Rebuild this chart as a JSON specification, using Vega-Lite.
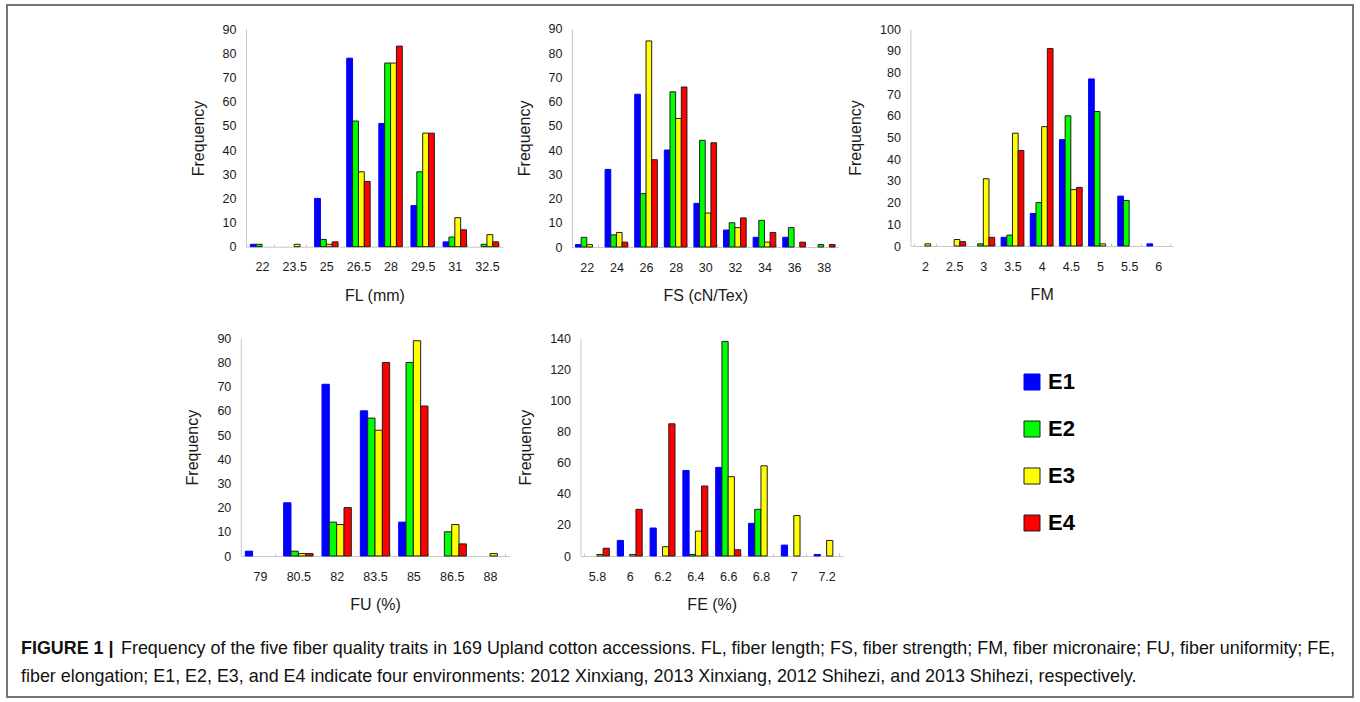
{
  "$schema": "https://vega.github.io/schema/vega-lite/v6.json",
  "width": 1346,
  "height": 692,
  "autosize": {"type": "none"},
  "padding": {"left": 7, "top": 5, "right": 7, "bottom": 5},
  "background": "white",
  "datasets": {
    "bars": [
      {"trait": "FL", "cls": 22, "env": "E1", "freq": 1},
      {"trait": "FL", "cls": 22, "env": "E2", "freq": 1},
      {"trait": "FL", "cls": 23.5, "env": "E3", "freq": 1},
      {"trait": "FL", "cls": 25, "env": "E1", "freq": 20},
      {"trait": "FL", "cls": 25, "env": "E2", "freq": 3},
      {"trait": "FL", "cls": 25, "env": "E3", "freq": 1},
      {"trait": "FL", "cls": 25, "env": "E4", "freq": 2},
      {"trait": "FL", "cls": 26.5, "env": "E1", "freq": 78},
      {"trait": "FL", "cls": 26.5, "env": "E2", "freq": 52},
      {"trait": "FL", "cls": 26.5, "env": "E3", "freq": 31},
      {"trait": "FL", "cls": 26.5, "env": "E4", "freq": 27},
      {"trait": "FL", "cls": 28, "env": "E1", "freq": 51},
      {"trait": "FL", "cls": 28, "env": "E2", "freq": 76},
      {"trait": "FL", "cls": 28, "env": "E3", "freq": 76},
      {"trait": "FL", "cls": 28, "env": "E4", "freq": 83},
      {"trait": "FL", "cls": 29.5, "env": "E1", "freq": 17},
      {"trait": "FL", "cls": 29.5, "env": "E2", "freq": 31},
      {"trait": "FL", "cls": 29.5, "env": "E3", "freq": 47},
      {"trait": "FL", "cls": 29.5, "env": "E4", "freq": 47},
      {"trait": "FL", "cls": 31, "env": "E1", "freq": 2},
      {"trait": "FL", "cls": 31, "env": "E2", "freq": 4},
      {"trait": "FL", "cls": 31, "env": "E3", "freq": 12},
      {"trait": "FL", "cls": 31, "env": "E4", "freq": 7},
      {"trait": "FL", "cls": 32.5, "env": "E2", "freq": 1},
      {"trait": "FL", "cls": 32.5, "env": "E3", "freq": 5},
      {"trait": "FL", "cls": 32.5, "env": "E4", "freq": 2},

      {"trait": "FS", "cls": 22, "env": "E1", "freq": 1},
      {"trait": "FS", "cls": 22, "env": "E2", "freq": 4},
      {"trait": "FS", "cls": 22, "env": "E3", "freq": 1},
      {"trait": "FS", "cls": 24, "env": "E1", "freq": 32},
      {"trait": "FS", "cls": 24, "env": "E2", "freq": 5},
      {"trait": "FS", "cls": 24, "env": "E3", "freq": 6},
      {"trait": "FS", "cls": 24, "env": "E4", "freq": 2},
      {"trait": "FS", "cls": 26, "env": "E1", "freq": 63},
      {"trait": "FS", "cls": 26, "env": "E2", "freq": 22},
      {"trait": "FS", "cls": 26, "env": "E3", "freq": 85},
      {"trait": "FS", "cls": 26, "env": "E4", "freq": 36},
      {"trait": "FS", "cls": 28, "env": "E1", "freq": 40},
      {"trait": "FS", "cls": 28, "env": "E2", "freq": 64},
      {"trait": "FS", "cls": 28, "env": "E3", "freq": 53},
      {"trait": "FS", "cls": 28, "env": "E4", "freq": 66},
      {"trait": "FS", "cls": 30, "env": "E1", "freq": 18},
      {"trait": "FS", "cls": 30, "env": "E2", "freq": 44},
      {"trait": "FS", "cls": 30, "env": "E3", "freq": 14},
      {"trait": "FS", "cls": 30, "env": "E4", "freq": 43},
      {"trait": "FS", "cls": 32, "env": "E1", "freq": 7},
      {"trait": "FS", "cls": 32, "env": "E2", "freq": 10},
      {"trait": "FS", "cls": 32, "env": "E3", "freq": 8},
      {"trait": "FS", "cls": 32, "env": "E4", "freq": 12},
      {"trait": "FS", "cls": 34, "env": "E1", "freq": 4},
      {"trait": "FS", "cls": 34, "env": "E2", "freq": 11},
      {"trait": "FS", "cls": 34, "env": "E3", "freq": 2},
      {"trait": "FS", "cls": 34, "env": "E4", "freq": 6},
      {"trait": "FS", "cls": 36, "env": "E1", "freq": 4},
      {"trait": "FS", "cls": 36, "env": "E2", "freq": 8},
      {"trait": "FS", "cls": 36, "env": "E4", "freq": 2},
      {"trait": "FS", "cls": 38, "env": "E2", "freq": 1},
      {"trait": "FS", "cls": 38, "env": "E4", "freq": 1},

      {"trait": "FM", "cls": 2, "env": "E3", "freq": 1},
      {"trait": "FM", "cls": 2.5, "env": "E3", "freq": 3},
      {"trait": "FM", "cls": 2.5, "env": "E4", "freq": 2},
      {"trait": "FM", "cls": 3, "env": "E2", "freq": 1},
      {"trait": "FM", "cls": 3, "env": "E3", "freq": 31},
      {"trait": "FM", "cls": 3, "env": "E4", "freq": 4},
      {"trait": "FM", "cls": 3.5, "env": "E1", "freq": 4},
      {"trait": "FM", "cls": 3.5, "env": "E2", "freq": 5},
      {"trait": "FM", "cls": 3.5, "env": "E3", "freq": 52},
      {"trait": "FM", "cls": 3.5, "env": "E4", "freq": 44},
      {"trait": "FM", "cls": 4, "env": "E1", "freq": 15},
      {"trait": "FM", "cls": 4, "env": "E2", "freq": 20},
      {"trait": "FM", "cls": 4, "env": "E3", "freq": 55},
      {"trait": "FM", "cls": 4, "env": "E4", "freq": 91},
      {"trait": "FM", "cls": 4.5, "env": "E1", "freq": 49},
      {"trait": "FM", "cls": 4.5, "env": "E2", "freq": 60},
      {"trait": "FM", "cls": 4.5, "env": "E3", "freq": 26},
      {"trait": "FM", "cls": 4.5, "env": "E4", "freq": 27},
      {"trait": "FM", "cls": 5, "env": "E1", "freq": 77},
      {"trait": "FM", "cls": 5, "env": "E2", "freq": 62},
      {"trait": "FM", "cls": 5, "env": "E3", "freq": 1},
      {"trait": "FM", "cls": 5.5, "env": "E1", "freq": 23},
      {"trait": "FM", "cls": 5.5, "env": "E2", "freq": 21},
      {"trait": "FM", "cls": 6, "env": "E1", "freq": 1},

      {"trait": "FU", "cls": 79, "env": "E1", "freq": 2},
      {"trait": "FU", "cls": 80.5, "env": "E1", "freq": 22},
      {"trait": "FU", "cls": 80.5, "env": "E2", "freq": 2},
      {"trait": "FU", "cls": 80.5, "env": "E3", "freq": 1},
      {"trait": "FU", "cls": 80.5, "env": "E4", "freq": 1},
      {"trait": "FU", "cls": 82, "env": "E1", "freq": 71},
      {"trait": "FU", "cls": 82, "env": "E2", "freq": 14},
      {"trait": "FU", "cls": 82, "env": "E3", "freq": 13},
      {"trait": "FU", "cls": 82, "env": "E4", "freq": 20},
      {"trait": "FU", "cls": 83.5, "env": "E1", "freq": 60},
      {"trait": "FU", "cls": 83.5, "env": "E2", "freq": 57},
      {"trait": "FU", "cls": 83.5, "env": "E3", "freq": 52},
      {"trait": "FU", "cls": 83.5, "env": "E4", "freq": 80},
      {"trait": "FU", "cls": 85, "env": "E1", "freq": 14},
      {"trait": "FU", "cls": 85, "env": "E2", "freq": 80},
      {"trait": "FU", "cls": 85, "env": "E3", "freq": 89},
      {"trait": "FU", "cls": 85, "env": "E4", "freq": 62},
      {"trait": "FU", "cls": 86.5, "env": "E2", "freq": 10},
      {"trait": "FU", "cls": 86.5, "env": "E3", "freq": 13},
      {"trait": "FU", "cls": 86.5, "env": "E4", "freq": 5},
      {"trait": "FU", "cls": 88, "env": "E3", "freq": 1},

      {"trait": "FE", "cls": 5.8, "env": "E3", "freq": 1},
      {"trait": "FE", "cls": 5.8, "env": "E4", "freq": 5},
      {"trait": "FE", "cls": 6, "env": "E1", "freq": 10},
      {"trait": "FE", "cls": 6, "env": "E3", "freq": 1},
      {"trait": "FE", "cls": 6, "env": "E4", "freq": 30},
      {"trait": "FE", "cls": 6.2, "env": "E1", "freq": 18},
      {"trait": "FE", "cls": 6.2, "env": "E3", "freq": 6},
      {"trait": "FE", "cls": 6.2, "env": "E4", "freq": 85},
      {"trait": "FE", "cls": 6.4, "env": "E1", "freq": 55},
      {"trait": "FE", "cls": 6.4, "env": "E2", "freq": 1},
      {"trait": "FE", "cls": 6.4, "env": "E3", "freq": 16},
      {"trait": "FE", "cls": 6.4, "env": "E4", "freq": 45},
      {"trait": "FE", "cls": 6.6, "env": "E1", "freq": 57},
      {"trait": "FE", "cls": 6.6, "env": "E2", "freq": 138},
      {"trait": "FE", "cls": 6.6, "env": "E3", "freq": 51},
      {"trait": "FE", "cls": 6.6, "env": "E4", "freq": 4},
      {"trait": "FE", "cls": 6.8, "env": "E1", "freq": 21},
      {"trait": "FE", "cls": 6.8, "env": "E2", "freq": 30},
      {"trait": "FE", "cls": 6.8, "env": "E3", "freq": 58},
      {"trait": "FE", "cls": 7, "env": "E1", "freq": 7},
      {"trait": "FE", "cls": 7, "env": "E3", "freq": 26},
      {"trait": "FE", "cls": 7.2, "env": "E1", "freq": 1},
      {"trait": "FE", "cls": 7.2, "env": "E3", "freq": 10}
    ],
    "caption": [
      {"line": 1, "col": 0, "weight": "bold", "text": "FIGURE 1 |"},
      {"line": 1, "col": 1, "weight": "normal", "text": "Frequency of the five fiber quality traits in 169 Upland cotton accessions. FL, fiber length; FS, fiber strength; FM, fiber micronaire; FU, fiber uniformity; FE,"},
      {"line": 2, "col": 0, "weight": "normal", "text": "fiber elongation; E1, E2, E3, and E4 indicate four environments: 2012 Xinxiang, 2013 Xinxiang, 2012 Shihezi, and 2013 Shihezi, respectively."}
    ]
  },
  "layer": [
    {
      "data": {"name": "bars"},
      "transform": [{"filter": "datum.trait === 'FL'"}],
      "mark": {"type": "bar", "strokeWidth": 1},
      "encoding": {
        "x": {"field": "cls", "type": "ordinal", "scale": {"domain": [22, 23.5, 25, 26.5, 28, 29.5, 31, 32.5], "range": [239, 496], "paddingInner": 0.27, "paddingOuter": 0.135}, "axis": {"title": "FL (mm)", "orient": "bottom", "offset": -450.3}},
        "xOffset": {"field": "env", "type": "nominal", "scale": {"domain": ["E1", "E2", "E3", "E4"], "paddingInner": 0, "paddingOuter": 0}},
        "y": {"field": "freq", "type": "quantitative", "scale": {"domain": [0, 90], "range": [241.7, 24.2], "nice": false, "zero": true}, "axis": {"title": "Frequency", "orient": "left", "offset": -239, "values": [0, 10, 20, 30, 40, 50, 60, 70, 80, 90]}},
        "color": {"field": "env", "type": "nominal", "scale": {"domain": ["E1", "E2", "E3", "E4"], "range": ["#0000ff", "#00ff00", "#ffff00", "#ff0000"]}, "legend": {"title": null, "orient": "none", "legendX": 1014, "legendY": 366}},
        "stroke": {"field": "env", "type": "nominal", "scale": {"domain": ["E1", "E2", "E3", "E4"], "range": ["#0000ff", "#1e1e1e", "#1e1e1e", "#1e1e1e"]}, "legend": {"title": null, "orient": "none", "legendX": 1014, "legendY": 366}}
      }
    },
    {
      "data": {"name": "bars"},
      "transform": [{"filter": "datum.trait === 'FS'"}],
      "mark": {"type": "bar", "strokeWidth": 1},
      "encoding": {
        "x": {"field": "cls", "type": "ordinal", "scale": {"domain": [22, 24, 26, 28, 30, 32, 34, 36, 38], "range": [565, 831.5], "paddingInner": 0.235, "paddingOuter": 0.1175}, "axis": {"title": "FS (cN/Tex)", "orient": "bottom", "offset": -450}},
        "xOffset": {"field": "env", "type": "nominal", "scale": {"domain": ["E1", "E2", "E3", "E4"], "paddingInner": 0, "paddingOuter": 0}},
        "y": {"field": "freq", "type": "quantitative", "scale": {"domain": [0, 90], "range": [242, 23.8], "nice": false, "zero": true}, "axis": {"title": "Frequency", "orient": "left", "offset": -565, "values": [0, 10, 20, 30, 40, 50, 60, 70, 80, 90]}},
        "color": {"field": "env", "type": "nominal", "scale": {"domain": ["E1", "E2", "E3", "E4"], "range": ["#0000ff", "#00ff00", "#ffff00", "#ff0000"]}, "legend": {"title": null, "orient": "none", "legendX": 1014, "legendY": 366}},
        "stroke": {"field": "env", "type": "nominal", "scale": {"domain": ["E1", "E2", "E3", "E4"], "range": ["#0000ff", "#1e1e1e", "#1e1e1e", "#1e1e1e"]}, "legend": {"title": null, "orient": "none", "legendX": 1014, "legendY": 366}}
      }
    },
    {
      "data": {"name": "bars"},
      "transform": [{"filter": "datum.trait === 'FM'"}],
      "mark": {"type": "bar", "strokeWidth": 1},
      "encoding": {
        "x": {"field": "cls", "type": "ordinal", "scale": {"domain": [2, 2.5, 3, 3.5, 4, 4.5, 5, 5.5, 6], "range": [903.4, 1165.9], "paddingInner": 0.22, "paddingOuter": 0.11}, "axis": {"title": "FM", "orient": "bottom", "offset": -451}},
        "xOffset": {"field": "env", "type": "nominal", "scale": {"domain": ["E1", "E2", "E3", "E4"], "paddingInner": 0, "paddingOuter": 0}},
        "y": {"field": "freq", "type": "quantitative", "scale": {"domain": [0, 100], "range": [241, 24], "nice": false, "zero": true}, "axis": {"title": "Frequency", "orient": "left", "offset": -903.4, "values": [0, 10, 20, 30, 40, 50, 60, 70, 80, 90, 100]}},
        "color": {"field": "env", "type": "nominal", "scale": {"domain": ["E1", "E2", "E3", "E4"], "range": ["#0000ff", "#00ff00", "#ffff00", "#ff0000"]}, "legend": {"title": null, "orient": "none", "legendX": 1014, "legendY": 366}},
        "stroke": {"field": "env", "type": "nominal", "scale": {"domain": ["E1", "E2", "E3", "E4"], "range": ["#0000ff", "#1e1e1e", "#1e1e1e", "#1e1e1e"]}, "legend": {"title": null, "orient": "none", "legendX": 1014, "legendY": 366}}
      }
    },
    {
      "data": {"name": "bars"},
      "transform": [{"filter": "datum.trait === 'FU'"}],
      "mark": {"type": "bar", "strokeWidth": 1},
      "encoding": {
        "x": {"field": "cls", "type": "ordinal", "scale": {"domain": [79, 80.5, 82, 83.5, 85, 86.5, 88], "range": [233.8, 502.2], "paddingInner": 0.235, "paddingOuter": 0.1175}, "axis": {"title": "FU (%)", "orient": "bottom", "offset": -141}},
        "xOffset": {"field": "env", "type": "nominal", "scale": {"domain": ["E1", "E2", "E3", "E4"], "paddingInner": 0, "paddingOuter": 0}},
        "y": {"field": "freq", "type": "quantitative", "scale": {"domain": [0, 90], "range": [551, 333.3], "nice": false, "zero": true}, "axis": {"title": "Frequency", "orient": "left", "offset": -233.8, "values": [0, 10, 20, 30, 40, 50, 60, 70, 80, 90]}},
        "color": {"field": "env", "type": "nominal", "scale": {"domain": ["E1", "E2", "E3", "E4"], "range": ["#0000ff", "#00ff00", "#ffff00", "#ff0000"]}, "legend": {"title": null, "orient": "none", "legendX": 1014, "legendY": 366}},
        "stroke": {"field": "env", "type": "nominal", "scale": {"domain": ["E1", "E2", "E3", "E4"], "range": ["#0000ff", "#1e1e1e", "#1e1e1e", "#1e1e1e"]}, "legend": {"title": null, "orient": "none", "legendX": 1014, "legendY": 366}}
      }
    },
    {
      "data": {"name": "bars"},
      "transform": [{"filter": "datum.trait === 'FE'"}],
      "mark": {"type": "bar", "strokeWidth": 1},
      "encoding": {
        "x": {"field": "cls", "type": "ordinal", "scale": {"domain": [5.8, 6, 6.2, 6.4, 6.6, 6.8, 7, 7.2], "range": [573.5, 836], "paddingInner": 0.24, "paddingOuter": 0.12}, "axis": {"title": "FE (%)", "orient": "bottom", "offset": -141}},
        "xOffset": {"field": "env", "type": "nominal", "scale": {"domain": ["E1", "E2", "E3", "E4"], "paddingInner": 0, "paddingOuter": 0}},
        "y": {"field": "freq", "type": "quantitative", "scale": {"domain": [0, 140], "range": [551, 333.3], "nice": false, "zero": true}, "axis": {"title": "Frequency", "orient": "left", "offset": -573.5, "values": [0, 20, 40, 60, 80, 100, 120, 140]}},
        "color": {"field": "env", "type": "nominal", "scale": {"domain": ["E1", "E2", "E3", "E4"], "range": ["#0000ff", "#00ff00", "#ffff00", "#ff0000"]}, "legend": {"title": null, "orient": "none", "legendX": 1014, "legendY": 366}},
        "stroke": {"field": "env", "type": "nominal", "scale": {"domain": ["E1", "E2", "E3", "E4"], "range": ["#0000ff", "#1e1e1e", "#1e1e1e", "#1e1e1e"]}, "legend": {"title": null, "orient": "none", "legendX": 1014, "legendY": 366}}
      }
    },
    {
      "data": {"name": "caption"},
      "layer": [
        {
          "transform": [{"filter": "datum.weight === 'bold'"}],
          "mark": {"type": "text", "align": "left", "baseline": "middle", "fontSize": 17.9, "fontWeight": "bold", "color": "#111111"},
          "encoding": {
            "x": {"field": "col", "type": "ordinal", "scale": {"type": "point", "domain": [0, 1], "range": [14, 114], "padding": 0}, "axis": null},
            "y": {"field": "line", "type": "ordinal", "scale": {"type": "point", "domain": [1, 2], "range": [644, 672], "padding": 0}, "axis": null},
            "text": {"field": "text"}
          }
        },
        {
          "transform": [{"filter": "datum.weight === 'normal'"}],
          "mark": {"type": "text", "align": "left", "baseline": "middle", "fontSize": 17.9, "fontWeight": "normal", "color": "#111111"},
          "encoding": {
            "x": {"field": "col", "type": "ordinal", "scale": {"type": "point", "domain": [0, 1], "range": [14, 114], "padding": 0}, "axis": null},
            "y": {"field": "line", "type": "ordinal", "scale": {"type": "point", "domain": [1, 2], "range": [644, 672], "padding": 0}, "axis": null},
            "text": {"field": "text"}
          }
        }
      ]
    }
  ],
  "resolve": {
    "scale": {"x": "independent", "y": "independent", "xOffset": "independent"},
    "axis": {"x": "independent", "y": "independent"}
  },
  "config": {
    "font": "Liberation Sans",
    "view": {"stroke": "#767676", "strokeWidth": 2},
    "axis": {
      "domainColor": "#c8c8c8",
      "domainWidth": 1,
      "tickColor": "#c8c8c8",
      "labelColor": "#1a1a1a",
      "labelFont": "Liberation Sans",
      "labelFontSize": 12.5,
      "titleFont": "Liberation Sans",
      "titleFontSize": 16,
      "titleFontWeight": "normal",
      "titleColor": "#1a1a1a",
      "grid": false
    },
    "axisX": {"labelAngle": 0, "ticks": true, "tickBand": "extent", "tickSize": -3, "labelPadding": 17, "titlePadding": 14},
    "axisY": {"ticks": false, "labelPadding": 10, "titlePadding": 16},
    "legend": {
      "symbolType": "square",
      "symbolSize": 256,
      "symbolStrokeWidth": 1,
      "labelFont": "Liberation Sans",
      "labelFontSize": 22,
      "labelFontWeight": "bold",
      "labelColor": "#000000",
      "labelOffset": 5,
      "rowPadding": 25,
      "padding": 0
    }
  }
}
